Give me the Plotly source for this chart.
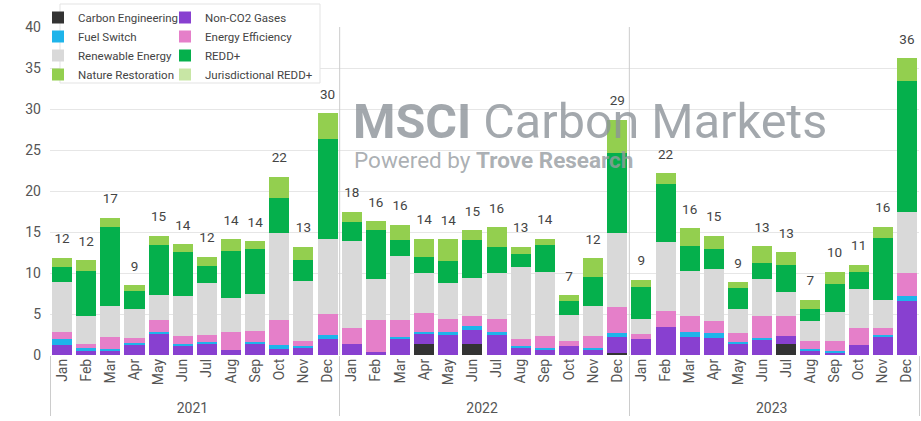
import plotly.graph_objects as go

years = ["2021", "2022", "2023"]
months = ["Jan", "Feb", "Mar", "Apr", "May", "Jun", "Jul", "Aug", "Sep", "Oct", "Nov", "Dec"]

series_names = ["Carbon Engineering", "Non-CO2 Gases", "Fuel Switch", "Energy Efficiency",
                "Renewable Energy", "REDD+", "Nature Restoration", "Jurisdictional REDD+"]
series_colors = ["#333333", "#8840d0", "#1eb4ea", "#e57fc9", "#d9d9d9", "#05b04c", "#93cf4f", "#c8e6a5"]

carbon_engineering = [0, 0, 0, 0, 0, 0, 0, 0, 0, 0, 0, 0,
                      0, 0, 0, 1.4, 0, 1.3, 0, 0, 0, 0, 0, 0.3,
                      0, 0, 0, 0, 0, 0, 1.3, 0, 0, 0, 0, 0]
non_co2 = [1.2, 0.5, 0.6, 1.25, 2.6, 1.2, 1.4, 0.6, 1.4, 0.75, 0.8, 1.9,
           1.35, 0.4, 2.0, 1.25, 2.55, 1.75, 2.5, 0.95, 0.7, 1.15, 0.7, 1.95,
           1.9, 3.4, 2.15, 2.1, 1.4, 1.85, 1.05, 0.5, 0.35, 1.2, 2.15, 6.6]
fuel_switch = [0.75, 0.3, 0.1, 0.2, 0.25, 0.15, 0.2, 0, 0.15, 0.5, 0.3, 0.55,
               0, 0, 0.2, 0.2, 0.2, 0.5, 0.35, 0.1, 0.15, 0, 0.1, 0.4,
               0, 0, 0.7, 0.6, 0.2, 0.25, 0, 0.25, 0.1, 0, 0.25, 0.6]
energy_efficiency = [0.8, 0.5, 1.45, 0.6, 1.4, 1.0, 0.9, 2.25, 1.35, 3.0, 0.65, 2.55,
                     1.9, 3.85, 2.1, 2.25, 1.7, 1.15, 1.6, 0.9, 1.45, 0.55, 1.5, 3.15,
                     0.65, 2.0, 1.85, 1.45, 1.1, 2.7, 2.45, 0.9, 1.2, 2.05, 0.85, 2.75]
renewable_energy = [6.1, 3.4, 3.8, 3.6, 3.05, 4.9, 6.3, 4.15, 4.5, 10.65, 7.25, 9.2,
                    10.65, 5.0, 7.75, 4.85, 4.3, 4.7, 5.6, 8.75, 7.8, 3.2, 3.7, 9.1,
                    1.9, 8.35, 5.5, 6.3, 2.9, 4.45, 2.9, 2.45, 3.65, 4.75, 3.4, 7.5]
redd = [1.9, 5.6, 9.7, 2.1, 6.1, 5.3, 2.1, 5.7, 5.5, 4.3, 2.6, 12.1,
        2.35, 6.05, 1.95, 1.95, 2.7, 4.65, 3.15, 1.6, 3.3, 1.7, 3.55, 9.7,
        3.85, 7.1, 3.15, 2.45, 2.55, 2.0, 3.25, 1.5, 3.35, 2.15, 7.65, 16.0]
nature_restoration = [1.1, 1.3, 1.1, 0.8, 1.15, 1.0, 1.1, 1.4, 0.95, 2.55, 1.6, 3.2,
                      1.25, 1.05, 1.9, 2.3, 2.7, 1.2, 2.4, 0.9, 0.8, 0.7, 2.25, 4.1,
                      0.9, 1.35, 2.15, 1.65, 0.75, 2.05, 1.6, 1.15, 1.5, 0.85, 1.35, 2.75]
jurisdictional_redd = [0] * 36

series_values = [carbon_engineering, non_co2, fuel_switch, energy_efficiency,
                 renewable_energy, redd, nature_restoration, jurisdictional_redd]
left_legend = ["Carbon Engineering", "Fuel Switch", "Renewable Energy", "Nature Restoration"]

x_years = [y for y in years for _ in months]
x_months = [m for _ in years for m in months]
x = [x_years, x_months]
n_cat = len(x_months)

FONT = "Roboto, Arial, sans-serif"
PL, PR, PT, PB = 50, 919, 27, 355
PW, PH = PR - PL, PB - PT


def px_x(p):
    return (p - PL) / PW


def px_y(p):
    return (PB - p) / PH


fig = go.Figure()
for name, color, vals in zip(series_names, series_colors, series_values):
    fig.add_trace(go.Bar(
        x=x, y=vals, name=name, marker_color=color, marker_line_width=0,
        legend="legend" if name in left_legend else "legend2",
    ))

totals = [sum(v[i] for v in series_values) for i in range(n_cat)]
fig.add_trace(go.Scatter(
    x=x, y=totals, mode="markers+text",
    text=[str(int(t + 0.5)) for t in totals],
    textposition="top center",
    marker=dict(size=16, opacity=0),
    textfont=dict(size=13.5, color="#444", family=FONT),
    showlegend=False, hoverinfo="skip", cliponaxis=False,
))

shapes = []
for k in range(1, len(years)):
    pos = k * len(months) - 0.5
    shapes.append(dict(type="line", xref="x", yref="paper", x0=pos, x1=pos, y0=0, y1=1,
                       line=dict(color="#cccccc", width=1), layer="above"))
shapes.append(dict(type="rect", xref="paper", yref="paper",
                   x0=px_x(60), x1=px_x(320), y0=px_y(83), y1=px_y(4),
                   line=dict(color="#e3e3e3", width=1), fillcolor="white", layer="above"))

legend_common = dict(
    orientation="v", traceorder="normal", bgcolor="rgba(0,0,0,0)",
    font=dict(size=11.5, color="#444", family=FONT),
    xref="container", yref="container", yanchor="top", xanchor="left",
    itemwidth=30, tracegroupgap=0, itemclick=False,
)

fig.update_layout(
    width=921, height=421,
    margin=dict(l=PL, r=921 - PR, t=PT, b=421 - PB, autoexpand=False),
    paper_bgcolor="white", plot_bgcolor="white",
    barmode="stack", bargap=0.17,
    font=dict(family=FONT, color="#555"),
    showlegend=True,
    legend=dict(**legend_common, x=38 / 921, y=1 - 3 / 421),
    legend2=dict(**legend_common, x=165 / 921, y=1 - 3 / 421),
    xaxis=dict(
        type="multicategory", tickangle=-90, range=[-0.5, n_cat - 0.5],
        tickfont=dict(size=14, color="#555", family=FONT),
        showdividers=True, dividercolor="#cccccc", dividerwidth=1,
        showgrid=False, zeroline=False, showline=False, ticks="",
    ),
    yaxis=dict(
        range=[0, 40], dtick=5, showgrid=True, gridcolor="#e6e6e6", gridwidth=1,
        zeroline=False, tickfont=dict(size=14, color="#555", family=FONT),
        ticks="", ticklabelstandoff=8,
    ),
    shapes=shapes,
    annotations=[
        dict(xref="paper", yref="paper", x=px_x(351), y=px_y(121),
             xanchor="left", yanchor="middle", showarrow=False,
             text="<b>MSCI</b> Carbon Markets",
             font=dict(size=48.5, color="rgba(140,146,152,0.8)", family=FONT)),
        dict(xref="paper", yref="paper", x=px_x(352), y=px_y(160),
             xanchor="left", yanchor="middle", showarrow=False,
             text="Powered by <b>Trove Research</b>",
             font=dict(size=22.5, color="rgba(150,155,160,0.8)", family=FONT)),
    ],
)

fig.write_html("out.html", config={"displayModeBar": False},
               post_script="document.body.style.margin='0';")
